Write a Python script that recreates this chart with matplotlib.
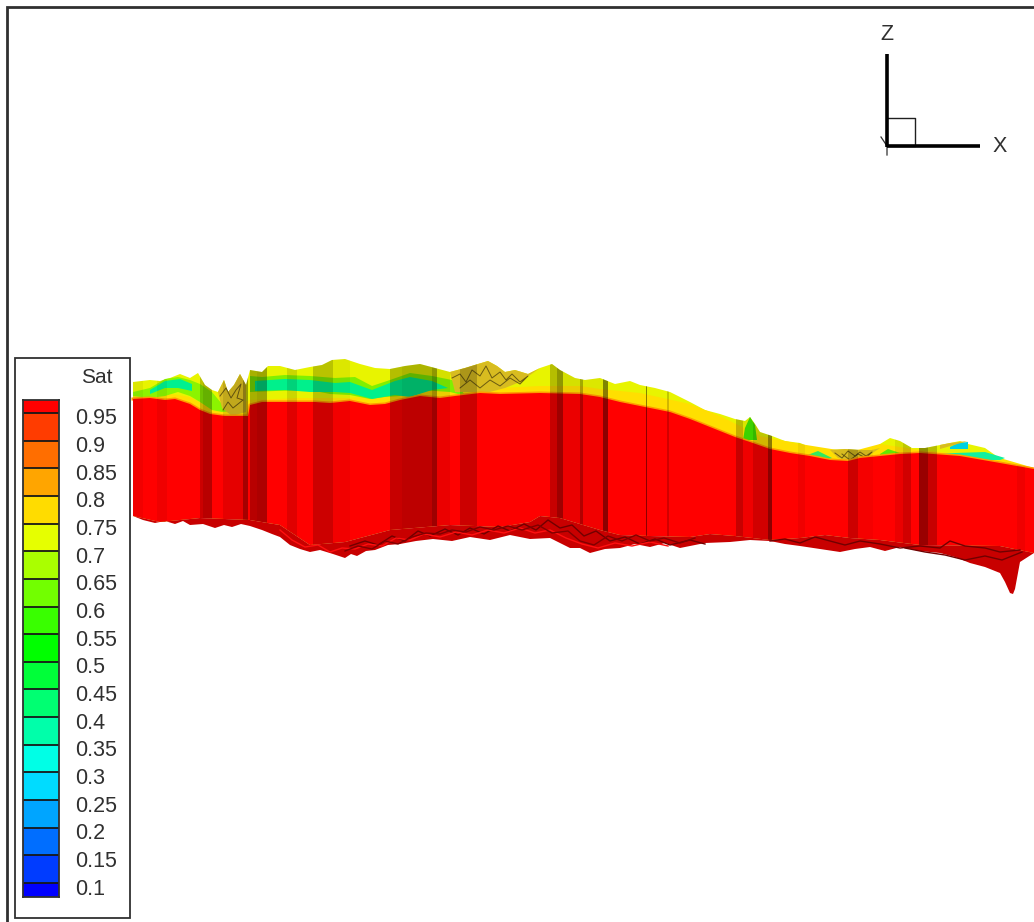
#!/usr/bin/env python3
# Sat on a slice through the model, Tecplot style. Picture is read in pixels so data axes = image pixels
import numpy as np
import matplotlib
matplotlib.use('Agg')
import matplotlib.pyplot as plt
from matplotlib.patches import Polygon, Rectangle
from matplotlib.colors import ListedColormap, BoundaryNorm

plt.rcParams['font.family'] = ['Liberation Sans', 'DejaVu Sans']

# legend
sat_levels = [0.95, 0.9, 0.85, 0.8, 0.75, 0.7, 0.65, 0.6, 0.55, 0.5, 0.45, 0.4, 0.35, 0.3, 0.25, 0.2, 0.15, 0.1]
sat_labels = ['0.95', '0.9', '0.85', '0.8', '0.75', '0.7', '0.65', '0.6', '0.55', '0.5', '0.45', '0.4', '0.35', '0.3', '0.25', '0.2', '0.15', '0.1']
sat_colors = ['#0000ff', '#003cff', '#006eff', '#00a5ff', '#00dcff', '#00ffe6', '#00ffaa', '#00ff72', '#00ff39',
              '#00ff00', '#39ff00', '#72ff00', '#aaff00', '#e6ff00', '#ffdc00', '#ffa500', '#ff6e00', '#ff3c00', '#ff0000']
sat_min = 0.0747
sat_max = 0.9735

# outline of the body
top_x = [133, 150, 160, 170, 180, 190, 198, 205, 212, 218, 224, 228, 234, 240, 246, 250, 262, 268, 280, 295, 310, 322, 332, 345, 360, 375, 390, 405, 420, 435, 450, 465, 478, 488, 497, 505, 515, 528, 540, 552, 560, 575, 585, 600, 615, 630, 640, 655, 670, 690, 705, 720, 735, 745, 750, 755, 760, 772, 785, 800, 815, 830, 845, 860, 872, 880, 890, 900, 912, 925, 940, 960, 968, 985, 1005, 1015, 1034]
top_y = [382, 380, 381, 378, 374, 378, 373, 385, 390, 392, 380, 392, 385, 374, 385, 370, 372, 366, 366, 370, 367, 365, 360, 359, 364, 368, 369, 366, 364, 368, 372, 368, 364, 361, 366, 372, 370, 374, 368, 364, 370, 378, 380, 378, 384, 381, 385, 388, 392, 402, 410, 414, 419, 421, 417, 424, 432, 436, 441, 443, 449, 450, 449, 450, 450, 444, 438, 441, 448, 448, 445, 441, 444, 448, 462, 465, 468]
red_x = [133, 150, 165, 175, 190, 200, 210, 225, 248, 250, 262, 275, 290, 315, 330, 350, 370, 385, 400, 420, 440, 455, 480, 500, 540, 580, 600, 620, 650, 670, 690, 705, 720, 735, 750, 770, 790, 810, 830, 848, 860, 880, 900, 920, 960, 1000, 1034]
red_y = [399, 398, 400, 399, 404, 410, 414, 416, 416, 405, 402, 402, 402, 402, 403, 401, 405, 404, 400, 396, 398, 396, 393, 394, 393, 394, 397, 402, 408, 412, 419, 425, 431, 437, 442, 449, 453, 456, 460, 461, 458, 456, 454, 453, 456, 463, 469]
mesh_top_x = [133, 160, 200, 250, 280, 310, 345, 390, 450, 500, 530, 540, 560, 580, 600, 620, 650, 690, 710, 735, 770, 800, 825, 850, 880, 920, 1000, 1034]
mesh_top_y = [516, 522, 518, 520, 525, 545, 542, 530, 525, 527, 522, 516, 518, 524, 530, 535, 536, 537, 534, 536, 540, 538, 535, 538, 540, 545, 546, 553]
bot_x = [133, 143, 155, 165, 175, 183, 190, 203, 215, 224, 232, 241, 250, 262, 272, 280, 290, 300, 310, 320, 333, 345, 351, 357, 366, 375, 388, 400, 416, 433, 452, 470, 490, 510, 530, 550, 560, 570, 580, 590, 605, 620, 635, 650, 665, 680, 705, 730, 750, 770, 785, 800, 820, 840, 855, 870, 885, 900, 920, 940, 955, 970, 985, 1000, 1005, 1010, 1013, 1015, 1020, 1034]
bot_y = [516, 520, 523, 521, 524, 521, 525, 524, 528, 525, 527, 524, 526, 530, 534, 537, 545, 549, 552, 550, 554, 558, 554, 556, 551, 550, 545, 544, 541, 539, 541, 537, 540, 535, 539, 538, 543, 548, 548, 553, 549, 548, 544, 547, 543, 548, 543, 542, 540, 541, 544, 546, 549, 552, 549, 547, 551, 547, 551, 553, 557, 563, 567, 573, 582, 593, 594, 589, 562, 553]

# upper bands, each is filled down to the red top
yellow_x = [133, 165, 190, 215, 250, 300, 350, 400, 450, 470, 500, 540, 580, 600, 640, 690, 720, 760, 800, 850, 880, 920, 1000, 1034]
yellow_y = [394, 393, 397, 410, 400, 398, 398, 393, 390, 391, 388, 386, 386, 389, 393, 404, 416, 436, 444, 452, 444, 450, 458, 468]
green1_x = [133, 150, 165, 178, 190, 200, 212, 222, 240, 240, 222, 212, 200, 190, 178, 165, 150, 133]
green1_y = [392, 388, 379, 377, 380, 384, 392, 404, 398, 410, 412, 410, 402, 396, 392, 396, 398, 396]
green2_x = [250, 262, 285, 310, 335, 355, 372, 390, 410, 432, 452, 466, 450, 420, 400, 385, 370, 350, 330, 310, 275, 250]
green2_y = [376, 377, 375, 376, 378, 377, 386, 380, 373, 376, 380, 396, 392, 390, 396, 397, 399, 395, 394, 390, 391, 392]
teal1_x = [150, 165, 180, 192, 192, 178, 165, 150]
teal1_y = [390, 381, 379, 384, 391, 388, 388, 394]
teal2_x = [255, 285, 310, 335, 350, 372, 395, 410, 432, 448, 432, 410, 395, 372, 350, 335, 310, 285, 255]
teal2_y = [381, 379, 380, 383, 382, 390, 381, 377, 381, 388, 390, 397, 395, 399, 393, 392, 392, 390, 391]
green3_x = [745, 750, 755, 757, 743]
green3_y = [428, 417, 425, 440, 440]
green4_x = [805, 818, 832, 825, 808]
green4_y = [456, 451, 458, 460, 458]
green5_x = [880, 888, 900, 892, 880]
green5_y = [454, 449, 453, 455, 456]
green6_x = [940, 955, 985, 1005, 1000, 960, 940]
green6_y = [454, 453, 452, 458, 460, 460, 457]
cyan_x = [950, 958, 968, 968, 950]
cyan_y = [447, 443, 442, 449, 449]

# dark yellow crumbly bits on top
crumb1_x = [218, 224, 228, 234, 240, 246, 246, 232, 222]
crumb1_y = [392, 380, 392, 385, 374, 385, 412, 416, 408]
crumb2_x = [450, 465, 478, 488, 497, 505, 515, 528, 540, 520, 505, 490, 472, 455]
crumb2_y = [372, 368, 364, 361, 366, 372, 370, 374, 368, 382, 388, 392, 392, 392]
crumb3_x = [830, 845, 860, 872, 880, 868, 850, 838]
crumb3_y = [450, 449, 450, 450, 448, 456, 461, 458]
crumb4_x = [940, 950, 968, 940]
crumb4_y = [445, 443, 441, 449]
crumb_line1_x = [220, 226, 231, 236, 241, 237, 243, 233, 228, 223]
crumb_line1_y = [396, 388, 398, 390, 384, 398, 400, 408, 402, 410]
crumb_line2_x = [452, 460, 466, 472, 480, 486, 492, 500, 506, 512, 520, 528, 520, 510, 500, 490, 480, 470, 460]
crumb_line2_y = [378, 374, 382, 370, 376, 366, 378, 372, 380, 374, 382, 376, 384, 378, 386, 380, 388, 380, 388]
crumb_line3_x = [835, 842, 848, 855, 860, 866, 872, 866, 858, 850, 842]
crumb_line3_y = [453, 458, 451, 456, 452, 456, 452, 458, 454, 460, 454]

# darker vertical faces
stripe_x0 = [133, 157, 200, 203, 223, 243, 250, 257, 287, 313, 333, 390, 402, 432, 437, 460, 550, 557, 563, 580, 583, 603, 646, 667, 736, 743, 753, 768, 798, 848, 858, 895, 903, 919, 928, 1017]
stripe_x1 = [143, 167, 203, 212, 243, 248, 257, 267, 297, 333, 350, 402, 432, 437, 450, 477, 557, 563, 580, 583, 603, 608, 647, 669, 743, 753, 768, 772, 805, 858, 873, 903, 911, 928, 937, 1025]
stripe_dark = [.05, .06, .2, .28, .1, .35, .28, .32, .12, .2, .05, .22, .26, .38, .08, .2, .22, .38, .08, .3, .05, .45, .45, .18, .22, .06, .18, .45, .06, .2, .04, .08, .18, .4, .22, .06]

# rough underside
under1_x = [350, 365, 378, 392, 405, 418, 430, 445, 458, 470, 484, 498, 510, 524, 536, 548, 560, 572, 584, 596, 610, 625, 640, 655, 670, 690, 705]
under1_y = [546, 541, 545, 536, 541, 531, 536, 529, 535, 528, 534, 526, 531, 524, 530, 520, 528, 525, 536, 531, 541, 537, 544, 539, 545, 540, 544]
under2_x = [280, 292, 305, 318, 330, 342, 355, 368, 382, 396, 410, 424, 440, 456, 472, 488, 504, 520, 535, 550, 566, 582, 598, 615, 632, 650, 668]
under2_y = [530, 540, 547, 545, 552, 548, 549, 544, 546, 538, 540, 534, 537, 532, 535, 530, 533, 528, 533, 530, 538, 544, 548, 543, 546, 542, 546]
under3_x = [770, 785, 800, 815, 830, 845, 860, 880, 900, 920, 940, 950, 965, 985, 1000, 1020]
under3_y = [541, 539, 543, 537, 541, 545, 541, 544, 548, 546, 548, 541, 546, 548, 552, 550]
under4_x = [905, 925, 945, 965, 985, 1002, 1012, 1022]
under4_y = [548, 552, 555, 560, 556, 560, 556, 552]
under5_x = [345, 358, 372, 385, 398, 412, 426, 440, 452, 466, 480, 494, 508, 522, 538, 552, 568, 580, 594, 608, 622, 636, 650, 664, 680, 695]
under5_y = [551, 546, 549, 541, 544, 537, 533, 534, 530, 532, 527, 530, 526, 530, 525, 533, 531, 541, 545, 536, 541, 535, 541, 538, 543, 538]

# triad
z_axis_x = [887, 887]
z_axis_y = [54, 147]
x_axis_x = [887, 980]
x_axis_y = [146, 146]
box_x = [887, 915, 915, 887]
box_y = [118, 118, 146, 146]
y_stub_x = [881, 887, 887]
y_stub_y = [137, 146, 155]

fig = plt.figure(figsize=(10.34, 9.22), dpi=100)
ax = fig.add_axes([0, 0, 1, 1])
ax.set_xlim(0, 1034)
ax.set_ylim(922, 0)
ax.axis('off')

# frame
ax.plot([7, 7, 1034], [922, 7, 7], color='#303030', lw=2.0, solid_joinstyle='miter')

# body
body = list(zip(top_x, top_y)) + list(zip(mesh_top_x[::-1], mesh_top_y[::-1]))
clip = Polygon(body, closed=True, fc='#e8f400', ec='none', zorder=1)
ax.add_patch(clip)

yellow_poly = list(zip(yellow_x, yellow_y)) + list(zip(red_x[::-1], red_y[::-1]))
ax.add_patch(Polygon(yellow_poly, closed=True, fc='#ffdf00', ec='none', zorder=1.2))
for xs, ys, col in [(green1_x, green1_y, '#8cf400'), (green2_x, green2_y, '#80f000'), (teal1_x, teal1_y, '#00f090'),
                    (teal2_x, teal2_y, '#00f08c'), (green3_x, green3_y, '#40e000'), (green4_x, green4_y, '#30e860'),
                    (green5_x, green5_y, '#60e800'), (green6_x, green6_y, '#10f0a0'), (cyan_x, cyan_y, '#00d0e0')]:
    ax.add_patch(Polygon(list(zip(xs, ys)), closed=True, fc=col, ec='none', zorder=1.4))
for xs, ys in [(crumb1_x, crumb1_y), (crumb2_x, crumb2_y), (crumb3_x, crumb3_y), (crumb4_x, crumb4_y)]:
    ax.add_patch(Polygon(list(zip(xs, ys)), closed=True, fc='#d8bc20', ec='none', zorder=1.5))
for xs, ys in [(crumb_line1_x, crumb_line1_y), (crumb_line2_x, crumb_line2_y), (crumb_line3_x, crumb_line3_y)]:
    ax.plot(xs, ys, color='#6a5a10', lw=0.7, zorder=1.6)

# red wall with a thin orange edge
ax.plot(red_x, red_y, color='#ff9a00', lw=2.2, zorder=1.8)
wall = list(zip(red_x, red_y)) + list(zip(mesh_top_x[::-1], mesh_top_y[::-1]))
ax.add_patch(Polygon(wall, closed=True, fc='#ff0000', ec='none', zorder=2))

for x0, x1, d in zip(stripe_x0, stripe_x1, stripe_dark):
    r = Rectangle((x0, 340), x1 - x0, 240, fc='black', ec='none', alpha=d, zorder=3)
    ax.add_patch(r)
    r.set_clip_path(clip)

# underside
under = list(zip(mesh_top_x, mesh_top_y)) + list(zip(bot_x[::-1], bot_y[::-1]))
ax.add_patch(Polygon(under, closed=True, fc='#c80000', ec='none', zorder=4))
for xs, ys, col in [(under1_x, under1_y, '#700000'), (under2_x, under2_y, '#ff1010'), (under3_x, under3_y, '#700000'),
                    (under4_x, under4_y, '#700000'), (under5_x, under5_y, '#800000')]:
    ax.plot(xs, ys, color=col, lw=1.0, zorder=5)

# triad
ax.plot(box_x, box_y, color='#202020', lw=1.0, zorder=6)
ax.plot(y_stub_x, y_stub_y, color='#303030', lw=0.9, zorder=6)
ax.plot(z_axis_x, z_axis_y, color='black', lw=2.6, solid_capstyle='butt', zorder=7)
ax.plot(x_axis_x, x_axis_y, color='black', lw=2.6, solid_capstyle='butt', zorder=7)
ax.text(887, 34, 'Z', fontsize=15.5, color='#303030', ha='center', va='center')
ax.text(1000, 146, 'X', fontsize=15.5, color='#303030', ha='center', va='center')

# legend box
ax.add_patch(Rectangle((15, 358), 115, 560, fc='white', ec='#303030', lw=1.3, zorder=8))
ax.text(97, 377, 'Sat', fontsize=15, color='#303030', ha='center', va='center', zorder=9)

cax = fig.add_axes([23 / 1034, 1 - 897 / 922, 36 / 1034, 497 / 922], zorder=10)
bounds = [sat_min] + sat_levels[::-1] + [sat_max]
cm = ListedColormap(sat_colors)
cax.pcolormesh([0, 1], bounds, np.arange(19).reshape(-1, 1), cmap=cm, norm=BoundaryNorm(np.arange(-0.5, 19.5), 19))
cax.hlines(sat_levels, 0, 1, color='#181818', lw=1.3)
cax.set_xlim(0, 1)
cax.set_ylim(sat_min, sat_max)
cax.set_xticks([])
cax.set_yticks([])
for s in cax.spines.values():
    s.set_linewidth(1.3)
    s.set_color('#303030')
for lev, lab in zip(sat_levels, sat_labels):
    cax.annotate(lab, xy=(1, lev), xycoords=('axes fraction', 'data'), xytext=(16, -6), textcoords='offset pixels',
                 fontsize=15.5, color='#303030', ha='left', va='center', annotation_clip=False)

fig.savefig('out.png', dpi=100)
